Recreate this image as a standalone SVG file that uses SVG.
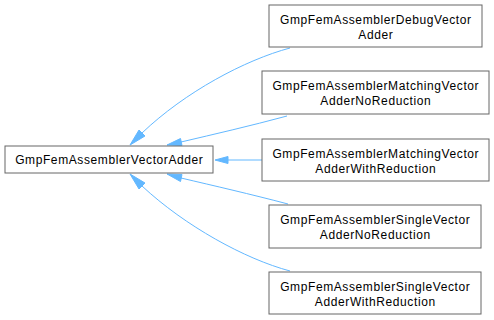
<svg xmlns="http://www.w3.org/2000/svg" width="494" height="320" viewBox="0 0 494 320">
<defs>
<style>
.node rect{fill:#ffffff;stroke:#666666;stroke-width:1}
.node text{font-family:"Liberation Sans",Arial,sans-serif;font-size:12px;letter-spacing:0.6px;fill:#000000;text-anchor:middle}
.edge path{fill:none;stroke:#63b8ff;stroke-width:1}
.edge polygon{fill:#63b8ff;stroke:#63b8ff;stroke-width:1}
</style>
</defs>
<rect width="494" height="320" fill="#ffffff"/>
<g id="connectors">
<g class="edge"><path d="M290,48 C245,60 185,92 142,133"/><polygon points="145,136 130,145 139,130"/></g>
<g class="edge"><path d="M287,116 C250,126 215,134 181,142"/><polygon points="182,145.5 167,145 180.5,138.5"/></g>
<g class="edge"><path d="M262,160 L228,160"/><polygon points="228,156.5 215,160 228,163.5"/></g>
<g class="edge"><path d="M288,204 C250,194 215,186 181,178"/><polygon points="180.5,181.5 167,174 182,174.5"/></g>
<g class="edge"><path d="M290,271 C245,259 185,226 142,186"/><polygon points="139,189 130,174 145,183"/></g>
</g>
<g id="base" class="node"><rect x="5" y="146" width="208" height="27"/><text x="109.3" y="164">GmpFemAssemblerVectorAdder</text></g>
<g id="debug" class="node"><rect x="269" y="5" width="213" height="42"/><text x="375.8" y="24">GmpFemAssemblerDebugVector</text><text x="375.8" y="39">Adder</text></g>
<g id="matchingNo" class="node"><rect x="262" y="71" width="227" height="43"/><text x="375.8" y="90">GmpFemAssemblerMatchingVector</text><text x="375.8" y="105">AdderNoReduction</text></g>
<g id="matchingWith" class="node"><rect x="262" y="139" width="227" height="42"/><text x="375.8" y="158">GmpFemAssemblerMatchingVector</text><text x="375.8" y="173">AdderWithReduction</text></g>
<g id="singleNo" class="node"><rect x="269" y="205" width="212" height="43"/><text x="375.3" y="224">GmpFemAssemblerSingleVector</text><text x="375.3" y="239">AdderNoReduction</text></g>
<g id="singleWith" class="node"><rect x="269" y="272" width="212" height="42"/><text x="375.3" y="291">GmpFemAssemblerSingleVector</text><text x="375.3" y="306">AdderWithReduction</text></g>
</svg>
